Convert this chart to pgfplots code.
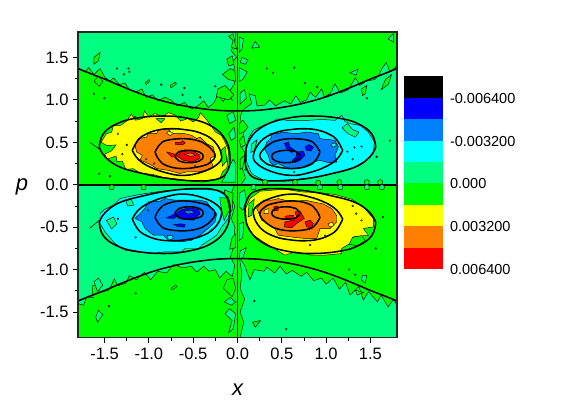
\documentclass[border=0pt]{standalone}
\usepackage{fontspec}
\setmainfont{Liberation Sans}
\usepackage{pgfplots}
\pgfplotsset{compat=1.18}
\usepackage{pgfplotstable}

\definecolor{cblue}{RGB}{0,0,255}
\definecolor{cazure}{RGB}{0,128,255}
\definecolor{ccyan}{RGB}{0,255,255}
\definecolor{cspring}{RGB}{0,255,128}
\definecolor{cgreen}{RGB}{0,255,0}
\definecolor{cyellow}{RGB}{255,255,0}
\definecolor{corange}{RGB}{255,128,0}
\definecolor{cred}{RGB}{255,0,0}

\tikzset{
  reg/.style={fill=#1,draw=black,line width=0.45pt},
  cont/.style={draw=black,line width=1.55pt,smooth,tension=0.7},
  speck/.style={only marks,mark=*,mark size=#1,mark options={draw=black,line width=0.35pt}}
}

% smooth contours, upper left quadrant, mirrored for the other three
\pgfplotstableread{
-1.56 0.445
-1.515 0.60
-1.36 0.72
-1.14 0.785
-0.84 0.81
-0.57 0.785
-0.31 0.70
-0.14 0.54
-0.085 0.33
-0.12 0.15
-0.235 0.065
-0.46 0.045
-0.76 0.07
-1.06 0.13
-1.33 0.21
-1.495 0.33
-1.56 0.445
}\ellA
\pgfplotstableread{
-1.187 0.405
-1.12 0.53
-1.025 0.60
-0.90 0.645
-0.76 0.66
-0.60 0.65
-0.42 0.61
-0.26 0.51
-0.18 0.347
-0.23 0.24
-0.40 0.15
-0.61 0.11
-0.80 0.14
-0.99 0.21
-1.12 0.30
-1.187 0.405
}\ellB
\pgfplotstableread{
-0.93 0.386
-0.88 0.47
-0.80 0.523
-0.61 0.543
-0.45 0.52
-0.35 0.47
-0.27 0.39
-0.254 0.327
-0.30 0.27
-0.386 0.225
-0.61 0.19
-0.80 0.225
-0.89 0.30
-0.93 0.386
}\ellC
\pgfplotstableread{
-0.705 0.335
-0.66 0.39
-0.545 0.405
-0.43 0.385
-0.386 0.335
-0.43 0.28
-0.545 0.26
-0.66 0.28
-0.705 0.335
}\ellD
\pgfplotstableread{
0 0.87
0.2 0.875
0.39 0.895
0.58 0.925
0.76 0.965
0.95 1.02
1.14 1.09
1.33 1.17
1.51 1.25
1.66 1.31
1.8 1.37
}\hyp

\newcommand\mirrored[3]{\addplot[cont] table[x expr=#1*\thisrowno{0},y expr=#2*\thisrowno{1},header=false] {#3};}
\newcommand\quadrant[2]{%
  \mirrored{#1}{#2}{\ellA}\mirrored{#1}{#2}{\ellB}\mirrored{#1}{#2}{\ellC}\mirrored{#1}{#2}{\ellD}}

\begin{document}
\begin{tikzpicture}
\useasboundingbox (0pt,0pt) rectangle (562pt,399pt);
\begin{axis}[
  at={(78pt,61.5pt)},anchor=south west,scale only axis,width=319pt,height=305.5pt,
  xmin=-1.8,xmax=1.8,ymin=-1.8,ymax=1.8,axis on top,
  xtick={-1.5,-1,-0.5,0,0.5,1,1.5},ytick={-1.5,-1,-0.5,0,0.5,1,1.5},
  xticklabels={-1.5,-1.0,-0.5,0.0,0.5,1.0,1.5},yticklabels={-1.5,-1.0,-0.5,0.0,0.5,1.0,1.5},
  minor x tick num=1,minor y tick num=1,tick align=outside,xtick pos=bottom,ytick pos=left,
  major tick length=5pt,minor tick length=3pt,
  tick style={black,line width=0.8pt},axis line style={black!85,line width=1.2pt},
  tick label style={font=\fontsize{16.5}{18}\selectfont},
  xticklabel style={yshift=-2pt},yticklabel style={xshift=-1pt},
  xlabel={\fontsize{22}{24}\selectfont\itshape x},ylabel={\fontsize{22}{24}\selectfont\itshape p},
  xlabel style={at={(axis description cs:0.5,0)},anchor=center,yshift=-52pt},
  ylabel style={at={(axis description cs:0,0.5)},anchor=center,rotate=-90,xshift=-56pt,yshift=-2pt},
]
% base level
\addplot[fill=cgreen,draw=none] coordinates {(-1.8,-1.8)(1.8,-1.8)(1.8,1.8)(-1.8,1.8)} --cycle;
% top left sheet
\addplot[reg=cspring] coordinates {
(-1.8,1.37)(-1.72,1.33)(-1.68,1.38)(-1.62,1.30)(-1.55,1.37)(-1.5,1.27)(-1.44,1.22)(-1.40,1.26)(-1.33,1.18)(-1.27,1.20)(-1.22,1.12)(-1.15,1.09)(-1.08,1.13)(-1.03,1.03)(-0.96,1.06)(-0.90,0.99)(-0.82,1.03)(-0.75,1.0)(-0.68,0.93)(-0.60,0.97)(-0.52,0.89)(-0.45,0.93)(-0.38,0.99)(-0.33,0.91)(-0.27,0.96)(-0.22,1.06)(-0.16,0.98)(-0.12,1.07)(-0.06,1.0)(-0.09,1.1)(-0.03,1.2)(-0.08,1.28)(-0.03,1.38)(-0.06,1.45)(-0.01,1.5)(-0.07,1.58)(-0.03,1.68)(-0.02,1.8)(-1.8,1.8)} --cycle;
% right middle sheet
\addplot[reg=cspring] coordinates {
(0.03,0.80)(0.06,0.88)(0.16,0.96)(0.13,1.07)(0.20,1.05)(0.22,0.93)(0.31,0.94)(0.36,1.0)(0.43,0.93)(0.53,0.99)(0.60,0.95)(0.66,1.05)(0.71,0.97)(0.78,1.0)(0.82,1.09)(0.88,1.03)(0.95,1.13)(0.98,1.03)(1.05,1.08)(1.10,1.19)(1.16,1.08)(1.25,1.12)(1.33,1.26)(1.38,1.17)(1.45,1.22)(1.55,1.24)(1.60,1.30)(1.63,1.37)(1.68,1.44)(1.72,1.33)(1.8,1.40)(1.8,0)(0.04,0)(0.09,0.08)(0.05,0.2)(0.10,0.35)(0.04,0.45)(0.07,0.6)} --cycle;
% lower left middle sheet
\addplot[reg=cspring] coordinates {
(-1.8,-1.40)(-1.74,-1.42)(-1.70,-1.32)(-1.63,-1.33)(-1.64,-1.19)(-1.57,-1.17)(-1.55,-1.27)(-1.45,-1.24)(-1.39,-1.11)(-1.35,-1.19)(-1.26,-1.16)(-1.22,-1.07)(-1.14,-1.12)(-1.05,-1.03)(-0.98,-1.12)(-0.90,-1.02)(-0.80,-1.04)(-0.72,-0.94)(-0.62,-0.98)(-0.52,-0.96)(-0.46,-1.03)(-0.38,-0.96)(-0.32,-1.02)(-0.25,-1.0)(-0.20,-1.10)(-0.13,-1.02)(-0.06,-1.08)(-0.03,-0.95)(-0.08,-0.85)(-0.04,-0.72)(-0.03,-0.5)(-0.07,-0.4)(-0.03,-0.25)(-0.08,-0.12)(-0.03,0)(-1.8,0)} --cycle;
% bottom right sheet
\addplot[reg=cspring] coordinates {
(0.02,-0.85)(0.08,-0.95)(0.14,-1.12)(0.19,-1.0)(0.30,-1.02)(0.33,-0.97)(0.42,-1.04)(0.48,-0.96)(0.55,-1.05)(0.62,-1.01)(0.72,-1.08)(0.78,-1.03)(0.86,-1.13)(0.95,-1.10)(1.0,-1.17)(1.08,-1.10)(1.15,-1.23)(1.22,-1.15)(1.27,-1.30)(1.37,-1.20)(1.42,-1.36)(1.48,-1.26)(1.58,-1.38)(1.62,-1.30)(1.70,-1.44)(1.76,-1.35)(1.8,-1.42)(1.8,-1.8)(0.03,-1.8)(0.07,-1.62)(0.03,-1.5)(0.08,-1.35)(0.03,-1.22)(0.05,-1.05)} --cycle;

% patches around x = 0
\addplot[reg=cgreen] coordinates {(-0.10,1.75)(-0.05,1.78)(-0.03,1.68)(-0.01,1.60)(-0.07,1.62)(-0.05,1.70)} --cycle;
\addplot[reg=cgreen] coordinates {(-0.17,1.30)(-0.08,1.37)(-0.03,1.34)(-0.02,1.22)(-0.10,1.24)} --cycle;
\addplot[reg=cgreen] coordinates {(-0.24,1.04)(-0.22,1.13)(-0.14,1.17)(-0.04,1.06)(-0.10,1.0)} --cycle;
\addplot[reg=cgreen] coordinates {(-0.12,1.48)(-0.06,1.52)(-0.04,1.42)(-0.10,1.40)} --cycle;
\addplot[reg=cgreen] coordinates {(-0.12,-1.12)(-0.16,-1.22)(-0.06,-1.32)(-0.02,-1.22)(-0.05,-1.10)} --cycle;
\addplot[reg=cspring] coordinates {(-0.14,-1.52)(-0.09,-1.46)(-0.02,-1.52)(-0.05,-1.7)(-0.1,-1.74)(-0.06,-1.6)} --cycle;
\addplot[reg=cspring] coordinates {(-0.15,-1.38)(-0.08,-1.33)(-0.02,-1.38)(-0.07,-1.42)} --cycle;
\addplot[reg=cspring] coordinates {(0.02,1.74)(0.07,1.72)(0.05,1.60)(0.02,1.56)} --cycle;
\addplot[reg=cspring] coordinates {(0.05,1.50)(0.12,1.47)(0.09,1.42)(0.03,1.44)} --cycle;
\addplot[reg=cspring] coordinates {(0.02,1.38)(0.11,1.33)(0.06,1.24)(0.02,1.22)} --cycle;
\addplot[reg=cspring] coordinates {(0.03,1.08)(0.08,1.12)(0.10,1.02)(0.03,0.95)} --cycle;
\addplot[reg=cspring] coordinates {(-0.18,0.03)(-0.14,0.1)(-0.10,0.2)(-0.05,0.3)(-0.02,0.25)(-0.02,0.03)} --cycle;
\addplot[reg=cspring] coordinates {(-0.10,0.60)(-0.04,0.68)(-0.02,0.56)(-0.07,0.52)} --cycle;
\addplot[reg=cspring] coordinates {(-0.12,0.82)(-0.05,0.86)(-0.02,0.76)(-0.09,0.72)} --cycle;
\addplot[reg=cgreen] coordinates {(-0.15,-0.06)(-0.05,-0.10)(-0.06,-0.3)(-0.11,-0.36)(-0.14,-0.2)} --cycle;
\addplot[reg=cgreen] coordinates {(-0.06,-0.62)(-0.02,-0.58)(-0.02,-0.74)(-0.09,-0.76)} --cycle;
\addplot[reg=cgreen] coordinates {(0.02,0.72)(0.06,0.76)(0.12,0.68)(0.07,0.62)(0.02,0.60)} --cycle;
\addplot[reg=cgreen] coordinates {(0.03,0.30)(0.09,0.36)(0.06,0.20)(0.03,0.18)} --cycle;
\addplot[reg=cgreen] coordinates {(0.02,0.52)(0.07,0.58)(0.09,0.47)(0.04,0.44)} --cycle;
\addplot[reg=cspring] coordinates {(0.02,-0.10)(0.08,-0.06)(0.10,-0.18)(0.06,-0.30)(0.02,-0.26)} --cycle;
\addplot[reg=cspring] coordinates {(0.02,-0.46)(0.07,-0.44)(0.06,-0.62)(0.02,-0.66)} --cycle;
\addplot[reg=cspring] coordinates {(0.03,-0.78)(0.10,-0.74)(0.06,-0.86)(0.02,-0.88)} --cycle;
% larger islands along the sheets
\addplot[reg=cgreen] coordinates {(1.40,1.13)(1.46,1.17)(1.44,1.07)(1.41,1.05)} --cycle;
\addplot[reg=cgreen] coordinates {(1.62,1.12)(1.70,1.18)(1.74,1.30)(1.67,1.24)} --cycle;
\addplot[reg=cspring] coordinates {(1.27,1.32)(1.36,1.36)(1.34,1.29)} --cycle;
\addplot[reg=cspring] coordinates {(1.70,1.72)(1.76,1.78)(1.76,1.68)} --cycle;
\addplot[reg=cspring] coordinates {(0.16,1.61)(0.20,1.69)(0.25,1.62)} --cycle;
\addplot[reg=cgreen] coordinates {(0.17,-1.62)(0.26,-1.60)(0.20,-1.68)} --cycle;
\addplot[reg=cgreen] coordinates {(1.33,-1.24)(1.42,-1.27)(1.35,-1.30)} --cycle;
\addplot[reg=cspring] coordinates {(1.41,-1.07)(1.46,-1.07)(1.44,-1.16)(1.40,-1.12)} --cycle;
\addplot[reg=cgreen] coordinates {(-1.62,1.50)(-1.55,1.56)(-1.57,1.46)(-1.62,1.42)} --cycle;
\addplot[reg=cspring] coordinates {(-1.57,-1.48)(-1.52,-1.53)(-1.58,-1.62)(-1.6,-1.56)} --cycle;
\addplot[reg=cgreen] coordinates {(-1.62,1.22)(-1.57,1.28)(-1.52,1.22)(-1.56,1.16)} --cycle;
\addplot[reg=cgreen] coordinates {(-0.76,1.17)(-0.70,1.21)(-0.69,1.19)(-0.75,1.14)} --cycle;
\addplot[reg=cgreen] coordinates {(-1.04,1.20)(-1.00,1.24)(-0.99,1.22)(-1.03,1.18)} --cycle;
\addplot[reg=cspring] coordinates {(-1.62,-1.14)(-1.57,-1.10)(-1.52,-1.18)(-1.58,-1.26)} --cycle;
\addplot[reg=cgreen] coordinates {(-0.75,-1.22)(-0.70,-1.18)(-0.68,-1.20)(-0.74,-1.24)} --cycle;

% upper left lobe
\addplot[reg=cyellow] coordinates {
(-1.54,0.50)(-1.48,0.60)(-1.42,0.62)(-1.40,0.70)(-1.32,0.70)(-1.25,0.75)(-1.2,0.83)(-1.15,0.76)(-1.07,0.78)(-1.05,0.87)(-1.0,0.80)(-0.93,0.84)(-0.85,0.80)(-0.78,0.85)(-0.70,0.82)(-0.64,0.75)(-0.56,0.78)(-0.50,0.74)(-0.44,0.79)(-0.42,0.85)(-0.36,0.78)(-0.30,0.70)(-0.25,0.62)(-0.18,0.58)(-0.14,0.50)(-0.10,0.40)(-0.12,0.20)(-0.17,0.15)(-0.2,0.07)(-0.30,0.06)(-0.40,0.03)(-0.55,0.05)(-0.7,0.07)(-0.85,0.09)(-0.95,0.12)(-1.1,0.14)(-1.18,0.19)(-1.26,0.18)(-1.30,0.28)(-1.36,0.27)(-1.37,0.34)(-1.47,0.30)(-1.5,0.36)(-1.42,0.40)(-1.37,0.47)(-1.47,0.46)} --cycle;
\addplot[reg=corange] coordinates {
(-1.157,0.465)(-1.12,0.543)(-1.025,0.562)(-1.007,0.602)(-0.912,0.602)(-0.894,0.641)(-0.781,0.661)(-0.743,0.602)(-0.593,0.602)(-0.517,0.582)(-0.46,0.543)(-0.423,0.562)(-0.348,0.485)(-0.273,0.445)(-0.254,0.347)(-0.31,0.308)(-0.273,0.21)(-0.367,0.17)(-0.442,0.151)(-0.573,0.151)(-0.649,0.132)(-0.781,0.17)(-0.912,0.19)(-0.968,0.229)(-1.044,0.268)(-1.10,0.288)(-1.074,0.347)(-1.138,0.386)} --cycle;
\addplot[reg=cred] coordinates {(-0.80,0.386)(-0.724,0.367)(-0.668,0.347)(-0.649,0.386)(-0.517,0.406)(-0.423,0.347)(-0.423,0.308)(-0.517,0.268)(-0.612,0.288)(-0.668,0.327)(-0.743,0.327)} --cycle;
\addplot[reg=cred] coordinates {(-0.70,0.475)(-0.62,0.47)(-0.59,0.495)(-0.62,0.52)(-0.64,0.50)(-0.70,0.50)} --cycle;
\addplot[reg=corange] coordinates {(-0.60,0.36)(-0.53,0.375)(-0.47,0.345)(-0.53,0.335)} --cycle;
\addplot[reg=cyellow] coordinates {(-0.80,0.605)(-0.76,0.58)(-0.72,0.605)(-0.78,0.635)} --cycle;
\addplot[reg=cgreen] coordinates {(-0.92,0.78)(-0.86,0.73)(-0.82,0.78)} --cycle;
\addplot[reg=cgreen] coordinates {(-0.19,0.40)(-0.14,0.45)(-0.12,0.28)(-0.17,0.22)} --cycle;

% upper right lobe
\addplot[reg=ccyan] coordinates {
(0.103,0.425)(0.122,0.543)(0.179,0.641)(0.292,0.70)(0.405,0.739)(0.442,0.778)(0.555,0.759)(0.668,0.759)(0.80,0.759)(0.95,0.77)(1.10,0.759)(1.176,0.818)(1.213,0.747)(1.27,0.72)(1.383,0.70)(1.477,0.62)(1.545,0.504)(1.533,0.386)(1.458,0.288)(1.326,0.21)(1.138,0.151)(0.912,0.092)(0.686,0.065)(0.461,0.053)(0.292,0.053)(0.16,0.13)(0.103,0.268)} --cycle;
\addplot[reg=cazure] coordinates {
(0.303,0.425)(0.329,0.50)(0.386,0.562)(0.367,0.602)(0.461,0.602)(0.499,0.621)(0.668,0.602)(0.781,0.621)(0.912,0.602)(0.931,0.543)(1.10,0.524)(1.138,0.445)(1.10,0.347)(1.12,0.268)(1.025,0.26)(0.931,0.288)(0.856,0.268)(0.743,0.21)(0.612,0.19)(0.536,0.21)(0.461,0.249)(0.405,0.229)(0.367,0.268)(0.348,0.347)} --cycle;
\addplot[reg=cblue] coordinates {(0.529,0.485)(0.574,0.504)(0.593,0.445)(0.649,0.406)(0.61,0.379)(0.555,0.425)} --cycle;
\addplot[reg=cblue] coordinates {(0.668,0.386)(0.743,0.394)(0.762,0.347)(0.705,0.288)(0.641,0.26)(0.62,0.288)(0.66,0.327)} --cycle;
\addplot[reg=cblue] coordinates {(0.762,0.445)(0.807,0.473)(0.856,0.445)(0.83,0.398)(0.78,0.406)} --cycle;
\addplot[reg=ccyan] coordinates {(1.05,0.47)(1.09,0.495)(1.12,0.47)(1.08,0.44)} --cycle;
\addplot[reg=cspring] coordinates {(1.18,0.67)(1.24,0.72)(1.30,0.65)(1.37,0.62)(1.33,0.56)(1.25,0.60)} --cycle;
\addplot[reg=cspring] coordinates {(0.16,0.48)(0.22,0.53)(0.19,0.40)(0.15,0.38)} --cycle;

% lower left lobe
\addplot[reg=ccyan] coordinates {
(-1.552,-0.34)(-1.495,-0.288)(-1.40,-0.241)(-1.326,-0.163)(-1.194,-0.132)(-1.044,-0.104)(-0.856,-0.076)(-0.668,-0.057)(-0.442,-0.053)(-0.235,-0.065)(-0.104,-0.143)(-0.077,-0.261)(-0.104,-0.397)(-0.178,-0.496)(-0.235,-0.594)(-0.404,-0.712)(-0.442,-0.751)(-0.593,-0.751)(-0.63,-0.79)(-0.818,-0.79)(-0.968,-0.81)(-1.157,-0.79)(-1.27,-0.77)(-1.383,-0.692)(-1.495,-0.555)(-1.552,-0.456)} --cycle;
\addplot[reg=cazure] coordinates {
(-1.157,-0.397)(-1.10,-0.34)(-1.044,-0.28)(-1.007,-0.202)(-0.875,-0.194)(-0.818,-0.163)(-0.705,-0.182)(-0.555,-0.182)(-0.423,-0.182)(-0.348,-0.202)(-0.291,-0.28)(-0.235,-0.34)(-0.254,-0.437)(-0.31,-0.496)(-0.423,-0.594)(-0.517,-0.653)(-0.63,-0.673)(-0.781,-0.653)(-0.837,-0.594)(-0.95,-0.594)(-1.044,-0.515)(-1.081,-0.437)} --cycle;
\addplot[reg=cblue] coordinates {(-0.80,-0.39)(-0.736,-0.359)(-0.668,-0.32)(-0.649,-0.30)(-0.555,-0.273)(-0.442,-0.288)(-0.423,-0.34)(-0.499,-0.418)(-0.612,-0.406)(-0.668,-0.367)(-0.724,-0.398)} --cycle;
\addplot[reg=cazure] coordinates {(-0.60,-0.31)(-0.52,-0.30)(-0.48,-0.33)(-0.57,-0.345)} --cycle;
\addplot[reg=cblue] coordinates {(-0.72,-0.47)(-0.64,-0.46)(-0.59,-0.47)(-0.60,-0.50)(-0.68,-0.49)} --cycle;
\addplot[reg=ccyan] coordinates {(-0.79,-0.60)(-0.74,-0.60)(-0.72,-0.63)(-0.78,-0.655)} --cycle;
\addplot[reg=cgreen] coordinates {(-0.20,-0.15)(-0.12,-0.15)(-0.09,-0.30)(-0.15,-0.42)(-0.18,-0.30)} --cycle;
\addplot[reg=cspring] coordinates {(-1.48,-0.42)(-1.40,-0.38)(-1.36,-0.46)(-1.42,-0.52)} --cycle;
\addplot[reg=cspring] coordinates {(-1.26,-0.19)(-1.20,-0.17)(-1.17,-0.24)(-1.24,-0.25)} --cycle;

% lower right lobe
\addplot[reg=cyellow] coordinates {
(0.092,-0.28)(0.141,-0.163)(0.254,-0.076)(0.386,-0.065)(0.536,-0.053)(0.724,-0.085)(0.912,-0.092)(1.10,-0.115)(1.289,-0.171)(1.42,-0.261)(1.533,-0.397)(1.533,-0.496)(1.42,-0.516)(1.477,-0.594)(1.307,-0.614)(1.27,-0.692)(1.176,-0.751)(1.176,-0.81)(0.988,-0.83)(0.837,-0.83)(0.649,-0.79)(0.536,-0.83)(0.442,-0.77)(0.292,-0.673)(0.179,-0.594)(0.103,-0.476)} --cycle;
\addplot[reg=corange] coordinates {
(0.217,-0.28)(0.292,-0.182)(0.386,-0.182)(0.461,-0.163)(0.612,-0.202)(0.762,-0.182)(0.969,-0.227)(1.063,-0.28)(1.12,-0.365)(1.12,-0.437)(1.044,-0.516)(0.931,-0.516)(0.894,-0.633)(0.762,-0.633)(0.593,-0.614)(0.461,-0.594)(0.42,-0.516)(0.31,-0.437)(0.273,-0.418)} --cycle;
\addplot[reg=cred] coordinates {(0.649,-0.32)(0.705,-0.312)(0.754,-0.397)(0.668,-0.456)(0.612,-0.508)(0.529,-0.496)(0.536,-0.437)(0.63,-0.418)(0.668,-0.379)} --cycle;
\addplot[reg=cred] coordinates {(0.762,-0.437)(0.82,-0.418)(0.856,-0.456)(0.83,-0.508)(0.78,-0.496)} --cycle;
\addplot[reg=cred] coordinates {(0.536,-0.37)(0.63,-0.36)(0.63,-0.40)(0.536,-0.40)} --cycle;
\addplot[reg=cred] coordinates {(0.41,-0.26)(0.45,-0.25)(0.46,-0.30)(0.42,-0.31)} --cycle;
\addplot[reg=cyellow] coordinates {(1.02,-0.46)(1.07,-0.44)(1.09,-0.48)(1.04,-0.50)} --cycle;
\addplot[reg=cyellow] coordinates {(0.30,-0.30)(0.35,-0.28)(0.35,-0.34)(0.30,-0.34)} --cycle;
\addplot[reg=cgreen] coordinates {(1.30,-0.62)(1.40,-0.60)(1.44,-0.66)(1.35,-0.72)(1.26,-0.70)} --cycle;
\addplot[reg=cgreen] coordinates {(0.13,-0.22)(0.19,-0.17)(0.16,-0.36)(0.12,-0.38)} --cycle;

% small bumps on p = 0 and small contour specks
\addplot[speck=2.6pt,mark options={fill=cgreen}] coordinates {(0.31,0.03)(0.65,0.03)(0.91,0.025)(1.15,0.03)(1.46,0.03)(1.61,0.03)(-1.42,-0.03)(-1.06,-0.03)};
\addplot[speck=2.6pt,mark options={fill=cspring}] coordinates {(0.18,-0.03)(0.93,-0.03)(1.16,-0.03)(1.46,-0.03)(1.63,-0.03)};
\addplot[speck=0.9pt,mark options={fill=cgreen}] coordinates {(-1.62,1.07)(-1.28,1.30)(-1.22,1.33)(-0.86,1.18)(-0.60,1.14)(-0.25,1.16)(0.09,0.18)(0.40,1.32)(-1.44,0.10)(-1.16,0.80)(0.55,-1.7)(-1.36,1.37)(-1.23,1.37)(-0.62,1.06)(-0.42,1.03)};
\addplot[speck=0.9pt,mark options={fill=cspring}] coordinates {(0.33,1.37)(0.64,1.38)(1.64,-0.38)(-1.50,1.02)(1.33,-1.06)(1.56,-0.75)(1.72,0.52)(1.57,0.33)(-1.45,-1.43)(-1.15,-1.28)(0.19,-1.37)(-1.56,0.13)(1.26,-1.0)(1.46,1.02)(0.76,1.2)(0.9,1.15)};
\addplot[speck=0.9pt,mark options={fill=cyellow}] coordinates {(-1.25,0.47)(-0.48,0.22)(-1.03,0.30)(-0.94,0.25)(-0.32,0.56)(0.82,-0.71)(1.34,-0.34)(0.99,-0.60)(-1.35,0.60)(-1.30,0.36)(1.30,-0.25)(1.40,-0.42)};
\addplot[speck=0.9pt,mark options={fill=ccyan}] coordinates {(0.40,0.22)(0.64,0.15)(1.24,0.39)(1.32,0.44)(-1.15,-0.62)(-0.30,-0.54)(-1.01,-0.30)(1.30,0.30)(1.40,0.45)(-1.35,-0.40)};

% dark reference contours
\quadrant{1}{1}\quadrant{-1}{1}\quadrant{1}{-1}\quadrant{-1}{-1}
\addplot[cont] table[header=false] {\hyp};
\addplot[cont] table[x expr=-\thisrowno{0},header=false] {\hyp};
\addplot[cont] table[y expr=-\thisrowno{1},x expr=\thisrowno{0},header=false] {\hyp};
\addplot[cont] table[x expr=-\thisrowno{0},y expr=-\thisrowno{1},header=false] {\hyp};
\addplot[black,line width=1.55pt] coordinates {(-1.8,0)(1.8,0)};
\addplot[black,line width=1.55pt] coordinates {(0,-1.8)(0,1.8)};
\addplot[black,line width=0.6pt] coordinates {(-1.665,0.50)(-1.56,0.42)};
\addplot[black,line width=0.6pt] coordinates {(-1.665,-0.51)(-1.56,-0.42)};
\end{axis}

% colour scale
\begin{axis}[
  at={(404pt,130pt)},anchor=south west,scale only axis,width=39pt,height=192.6pt,
  xmin=0,xmax=1,ymin=-0.008,ymax=0.0064,y dir=reverse,
  xtick=\empty,ytick={-0.0064,-0.0032,0,0.0032,0.0064},
  yticklabels={-0.006400,-0.003200,0.000,0.003200,0.006400},
  scaled y ticks=false,ytick pos=right,major tick length=0pt,
  axis line style={draw=none},
  yticklabel style={anchor=west,xshift=3.5pt,yshift=-0.5pt,font=\fontsize{14.5}{16}\selectfont},
]
\addplot[fill=black,draw=none] coordinates {(0,-0.008)(1,-0.008)(1,-0.0064)(0,-0.0064)} --cycle;
\addplot[fill=cblue,draw=none] coordinates {(0,-0.0064)(1,-0.0064)(1,-0.0048)(0,-0.0048)} --cycle;
\addplot[fill=cazure,draw=none] coordinates {(0,-0.0048)(1,-0.0048)(1,-0.0032)(0,-0.0032)} --cycle;
\addplot[fill=ccyan,draw=none] coordinates {(0,-0.0032)(1,-0.0032)(1,-0.0016)(0,-0.0016)} --cycle;
\addplot[fill=cspring,draw=none] coordinates {(0,-0.0016)(1,-0.0016)(1,0)(0,0)} --cycle;
\addplot[fill=cgreen,draw=none] coordinates {(0,0)(1,0)(1,0.0016)(0,0.0016)} --cycle;
\addplot[fill=cyellow,draw=none] coordinates {(0,0.0016)(1,0.0016)(1,0.0032)(0,0.0032)} --cycle;
\addplot[fill=corange,draw=none] coordinates {(0,0.0032)(1,0.0032)(1,0.0048)(0,0.0048)} --cycle;
\addplot[fill=cred,draw=none] coordinates {(0,0.0048)(1,0.0048)(1,0.0064)(0,0.0064)} --cycle;
\end{axis}
\end{tikzpicture}
\end{document}
